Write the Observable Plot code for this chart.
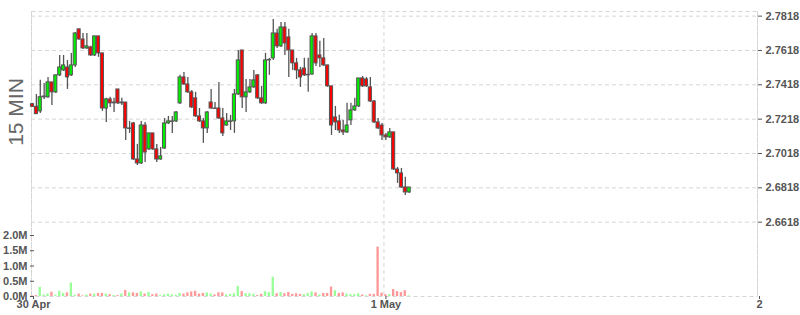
<!DOCTYPE html>
<html><head><meta charset="utf-8">
<script src="https://cdn.jsdelivr.net/npm/d3@7"></script>
<script src="https://cdn.jsdelivr.net/npm/@observablehq/plot@0.6"></script>
<style>
body{margin:0;background:#fff;}
#wrap{position:relative;width:800px;height:315px;overflow:hidden;font-family:"Liberation Sans",Arial,sans-serif;}
#wrap svg{position:absolute;left:0;top:0;}
#side{position:absolute;left:15.5px;top:112px;transform:translate(-50%,-50%) rotate(-90deg);font-size:21px;color:#666;white-space:nowrap;}
</style></head><body>
<div id="wrap"></div>
<script>
const opens = [2.7305,2.7290,2.7263,2.7345,2.7345,2.7432,2.7374,2.7473,2.7502,2.7519,2.7473,2.7531,2.7741,2.7682,2.7630,2.7636,2.7589,2.7700,
2.7601,2.7280,2.7333,2.7310,2.7391,2.7310,2.7315,2.7161,2.7193,2.6983,2.6960,2.7181,2.7042,2.7135,2.7042,2.6983,2.7047,2.7193,
2.7202,2.7205,2.7310,2.7461,2.7420,2.7374,2.7339,2.7234,2.7205,2.7164,2.7315,2.7280,2.7280,2.7222,2.7181,2.7202,
2.7205,2.7362,2.7618,2.7345,2.7374,2.7403,2.7473,2.7339,2.7310,2.7560,2.7572,2.7717,2.7642,2.7752,2.7694,2.7618,2.7543,2.7502,
2.7513,2.7473,2.7478,2.7700,2.7589,2.7572,2.7531,2.7409,2.7228,2.7205,2.7152,2.7141,2.7211,2.7269,2.7292,2.7455,2.7449,2.7403,
2.7321,2.7199,2.7181,2.7123,2.7112,2.7141,2.6925,2.6902,2.6820,2.6791];
const highs = [2.7310,2.7362,2.7444,2.7426,2.7461,2.7432,2.7473,2.7589,2.7589,2.7560,2.7601,2.7723,2.7741,2.7717,2.7717,2.7642,2.7700,2.7700,
2.7601,2.7339,2.7345,2.7339,2.7391,2.7339,2.7315,2.7205,2.7199,2.7071,2.7205,2.7199,2.7135,2.7135,2.7071,2.7053,2.7222,2.7234,
2.7234,2.7263,2.7473,2.7490,2.7461,2.7385,2.7374,2.7280,2.7222,2.7263,2.7391,2.7315,2.7432,2.7280,2.7251,2.7240,
2.7391,2.7618,2.7618,2.7449,2.7449,2.7502,2.7478,2.7409,2.7601,2.7572,2.7799,2.7741,2.7781,2.7781,2.7741,2.7618,2.7572,2.7519,
2.7572,2.7572,2.7717,2.7717,2.7671,2.7688,2.7531,2.7409,2.7292,2.7240,2.7211,2.7310,2.7310,2.7339,2.7455,2.7467,2.7461,2.7461,
2.7327,2.7222,2.7193,2.7135,2.7164,2.7141,2.6937,2.6931,2.6879,2.6820];
const lows = [2.7286,2.7246,2.7251,2.7333,2.7339,2.7298,2.7368,2.7467,2.7496,2.7391,2.7467,2.7519,2.7677,2.7624,2.7624,2.7583,2.7583,2.7578,
2.7263,2.7199,2.7286,2.7257,2.7304,2.7298,2.7094,2.7135,2.6978,2.6948,2.6954,2.6966,2.7036,2.7036,2.6966,2.6978,2.7042,2.7187,
2.7135,2.7199,2.7304,2.7414,2.7368,2.7280,2.7228,2.7199,2.7077,2.7135,2.7275,2.7275,2.7216,2.7117,2.7176,2.7152,
2.7135,2.7356,2.7280,2.7257,2.7368,2.7397,2.7333,2.7304,2.7304,2.7473,2.7560,2.7630,2.7636,2.7589,2.7461,2.7502,2.7449,2.7403,
2.7467,2.7374,2.7473,2.7525,2.7519,2.7525,2.7403,2.7123,2.7152,2.7135,2.7123,2.7135,2.7181,2.7263,2.7286,2.7403,2.7403,2.7315,
2.7193,2.7158,2.7094,2.7094,2.7106,2.6919,2.6844,2.6814,2.6774,2.6785];
const closes = [2.7290,2.7247,2.7346,2.7350,2.7432,2.7374,2.7473,2.7519,2.7531,2.7461,2.7531,2.7717,2.7682,2.7630,2.7642,2.7589,2.7700,2.7601,
2.7280,2.7333,2.7310,2.7315,2.7310,2.7315,2.7164,2.7164,2.6983,2.6960,2.7181,2.7024,2.7135,2.7042,2.6983,2.7001,2.7193,2.7205,
2.7205,2.7257,2.7461,2.7420,2.7374,2.7286,2.7234,2.7205,2.7164,2.7257,2.7280,2.7278,2.7222,2.7135,2.7205,2.7205,
2.7362,2.7560,2.7345,2.7374,2.7403,2.7444,2.7339,2.7310,2.7560,2.7563,2.7717,2.7642,2.7752,2.7659,2.7618,2.7543,2.7502,2.7461,
2.7473,2.7476,2.7700,2.7543,2.7572,2.7531,2.7409,2.7181,2.7199,2.7152,2.7141,2.7181,2.7269,2.7292,2.7455,2.7409,2.7409,2.7321,
2.7199,2.7164,2.7123,2.7112,2.7141,2.6925,2.6902,2.6820,2.6791,2.6820];
// volume in millions
const volumes = [0.02,0.03,0.30,0.05,0.08,0.14,0.04,0.17,0.10,0.12,0.44,0.04,0.08,0.02,0.05,0.08,0.08,0.10,
0.10,0.08,0.06,0.03,0.03,0.08,0.20,0.12,0.12,0.10,0.15,0.08,0.13,0.06,0.08,0.03,0.05,0.08,
0.05,0.04,0.10,0.08,0.12,0.15,0.17,0.08,0.10,0.12,0.08,0.05,0.12,0.12,0.05,0.07,
0.09,0.33,0.16,0.09,0.09,0.07,0.03,0.07,0.16,0.13,0.63,0.09,0.13,0.09,0.13,0.07,0.09,0.07,
0.06,0.10,0.15,0.12,0.05,0.10,0.10,0.31,0.19,0.10,0.12,0.08,0.06,0.06,0.09,0.05,0.02,0.07,
0.07,1.62,0.11,0.06,0.06,0.23,0.16,0.13,0.19,0.02];
const priceTicks = [2.6618,2.6818,2.7018,2.7218,2.7418,2.7618,2.7818];
const volTicks = [0,0.5,1.0,1.5,2.0];
const xTickPos = [-0.26,90.5,186.7];
const xTickLabels = ["30 Apr","1 May","2"];
const sideTitle = "15 MIN";

const candles = opens.map((o,i)=>({i,o,h:highs[i],l:lows[i],c:closes[i],v:volumes[i],
  up: closes[i] >= o,
  vup: i===0 ? closes[i] >= o : closes[i] >= closes[i-1]}));
const labelMap = new Map(xTickPos.map((p,k)=>[p,xTickLabels[k]]));

const xDom = [xTickPos[0], xTickPos[xTickPos.length-1]];
const common = {width:800,height:315,marginLeft:31,marginRight:43,marginBottom:19,
  style:{background:"transparent",color:"#555",fontFamily:"'Liberation Sans',Arial,sans-serif",fontSize:"11px",fontWeight:"bold"}};
const grid = {stroke:"#d6d6d6",strokeDasharray:"4,3",strokeOpacity:1};

const price = Plot.plot({...common, marginTop:11,
  x:{type:"linear",domain:xDom,axis:null},
  y:{domain:[2.6185,2.7845],axis:null},
  marks:[
    Plot.ruleY(priceTicks,grid),
    Plot.ruleX(xTickPos,grid),
    Plot.frame(grid),
    Plot.axisY({anchor:"right",ticks:priceTicks,tickFormat:d=>d.toFixed(4),tickSize:4,tickPadding:4,label:null}),
    Plot.axisX({ticks:xTickPos,tickFormat:d=>labelMap.get(d),tickSize:3,tickPadding:1,label:null,dx:2}),
    Plot.ruleX(candles,{x:"i",y1:"l",y2:"h",stroke:"#555",strokeWidth:1.3}),
    Plot.rect(candles,{x1:d=>d.i-0.4,x2:d=>d.i+0.4,y1:"o",y2:"c",fill:d=>d.up?"#00ee00":"#ff0000",stroke:"#555",strokeWidth:1})
  ]});

const vol = Plot.plot({...common, marginTop:235,
  x:{type:"linear",domain:xDom,axis:null},
  y:{domain:[0,2.0],axis:null},
  marks:[
    Plot.rect(candles,{x1:d=>d.i-0.3,x2:d=>d.i+0.3,y1:0,y2:"v",fill:d=>d.vup?"#99ff99":"#ff9999"}),
    Plot.axisY({anchor:"left",ticks:volTicks,tickFormat:d=>d.toFixed(1)+"M",tickSize:4,tickPadding:3,dx:3,label:null})
  ]});

const wrap = document.getElementById("wrap");
wrap.appendChild(price);
wrap.appendChild(vol);
const side = document.createElement("div");
side.id = "side"; side.textContent = sideTitle;
wrap.appendChild(side);
</script>
</body></html>
